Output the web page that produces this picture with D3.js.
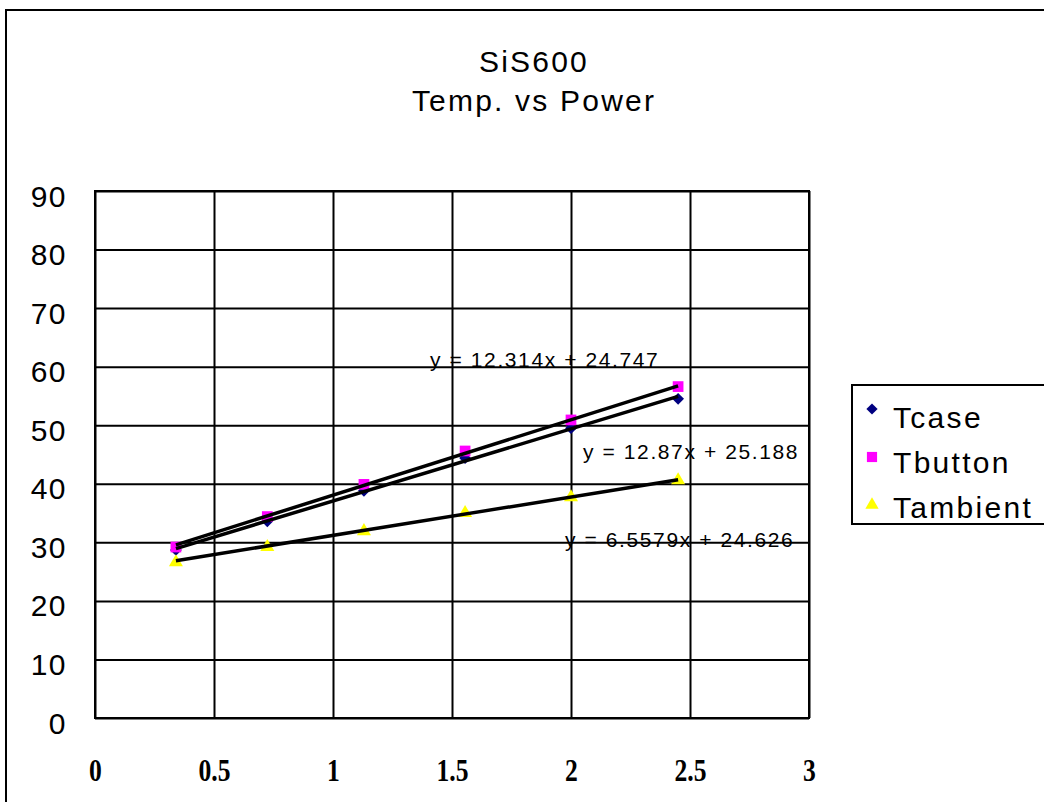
<!DOCTYPE html>
<html><head><meta charset="utf-8">
<script src="https://cdn.jsdelivr.net/npm/d3@7"></script>
<style>body{margin:0;background:#fff} svg{display:block}</style>
</head><body>
<svg id="c" width="1044" height="802"></svg>
<script>
// ---- data ----
const power    = [0.34, 0.724, 1.13, 1.555, 2.0, 2.45];
const tcase    = [28.7, 33.6, 38.8, 44.4, 49.5, 54.5];
const tbutton  = [29.2, 34.4, 39.9, 45.6, 50.9, 56.6];
const tambient = [26.6, 29.2, 31.9, 35.0, 37.7, 40.6];
const seriesNames = ["Tcase", "Tbutton", "Tambient"];
const trendSlopes = [12.314, 12.87, 6.5579];
const trendIntercepts = [24.747, 25.188, 24.626];
const trendLabels = ["y = 12.314x + 24.747", "y = 12.87x + 25.188", "y = 6.5579x + 24.626"];
const xTicks = [0, 0.5, 1, 1.5, 2, 2.5, 3];
const yTicks = [0, 10, 20, 30, 40, 50, 60, 70, 80, 90];
const titleLines = ["SiS600", "Temp. vs Power"];

// ---- layout / style ----
const colors = ["#000080", "#FF00FF", "#FFFF00"];
const diamond = { draw(ctx, size) { const r = Math.sqrt(size / 2); ctx.moveTo(0, -r); ctx.lineTo(r, 0); ctx.lineTo(0, r); ctx.lineTo(-r, 0); ctx.closePath(); } };
const shapes = [diamond, d3.symbolSquare, d3.symbolTriangle];
const shapeSizes = [70, 115, 85];
const labelPos = [[430, 367], [583, 459], [565, 547]];
const sans = "'Liberation Sans', Arial, sans-serif";

const svg = d3.select("#c");
const x = d3.scaleLinear().domain([0, 3]).range([95, 809]);
const y = d3.scaleLinear().domain([0, 90]).range([718, 191]);

// outer chart border (extends beyond right/bottom)
svg.append("rect").attr("x", 6).attr("y", 10).attr("width", 1100).attr("height", 900)
  .attr("fill", "none").attr("stroke", "#000").attr("stroke-width", 2);

// title
svg.append("g").selectAll("text").data(titleLines).join("text")
  .attr("x", 534).attr("y", (d, i) => 72 + i * 38.5)
  .attr("text-anchor", "middle")
  .attr("font-family", sans).attr("font-size", 30).attr("letter-spacing", 2.2)
  .text(d => d);

// gridlines
const gx = svg.append("g").attr("transform", `translate(0,${y(0)})`)
  .call(d3.axisBottom(x).tickValues(xTicks).tickSize(-(y(0) - y(90))).tickFormat(""));
gx.select(".domain").remove();
gx.selectAll("line").attr("stroke", "#000").attr("stroke-width", 2);

const gy = svg.append("g").attr("transform", `translate(${x(0)},0)`)
  .call(d3.axisLeft(y).tickValues(yTicks).tickSize(-(x(3) - x(0))).tickFormat(""));
gy.select(".domain").remove();
gy.selectAll("line").attr("stroke", "#000").attr("stroke-width", 2);

// plot border
svg.append("rect").attr("x", x(0)).attr("y", y(90))
  .attr("width", x(3) - x(0)).attr("height", y(0) - y(90))
  .attr("fill", "none").attr("stroke", "#000").attr("stroke-width", 2);

// y tick labels
const yl = svg.append("g").attr("transform", `translate(67,0)`)
  .call(d3.axisLeft(y).tickValues(yTicks).tickSize(0).tickPadding(0));
yl.select(".domain").remove();
yl.selectAll("text").attr("font-family", sans).attr("font-size", 30)
  .attr("letter-spacing", 1.5).attr("fill", "#000").attr("dy", "0.5em");

// x tick labels
const xl = svg.append("g").attr("transform", `translate(0,781)`)
  .call(d3.axisBottom(x).tickValues(xTicks).tickSize(0).tickPadding(0).tickFormat(d3.format("")));
xl.select(".domain").remove();
xl.selectAll("text").attr("font-family", "'Liberation Serif', 'Times New Roman', serif")
  .attr("font-weight", "bold").attr("font-size", 32).attr("fill", "#000")
  .attr("dy", 0).attr("transform", "scale(0.8,1)");

// markers
const allSeries = [tcase, tbutton, tambient];
allSeries.forEach((vals, si) => {
  svg.append("g").selectAll("path").data(vals).join("path")
    .attr("transform", (d, i) => `translate(${x(power[i])},${y(d)})`)
    .attr("d", d3.symbol().type(shapes[si]).size(shapeSizes[si]))
    .attr("fill", colors[si]);
});

// trendlines
const line = d3.line().x(d => x(d[0])).y(d => y(d[1]));
const xr = d3.extent(power);
trendSlopes.forEach((m, i) => {
  const b = trendIntercepts[i];
  svg.append("path").attr("d", line(xr.map(v => [v, m * v + b])))
    .attr("fill", "none").attr("stroke", "#000").attr("stroke-width", 3.5);
});

// trend labels
svg.append("g").selectAll("text").data(trendLabels).join("text")
  .attr("x", (d, i) => labelPos[i][0]).attr("y", (d, i) => labelPos[i][1])
  .attr("font-family", sans).attr("font-size", 21).attr("letter-spacing", 1.6)
  .text(d => d);

// legend
const lg = svg.append("g");
lg.append("rect").attr("x", 852).attr("y", 385).attr("width", 300).attr("height", 139)
  .attr("fill", "#fff").attr("stroke", "#000").attr("stroke-width", 2);
seriesNames.forEach((n, i) => {
  lg.append("path").attr("transform", `translate(872,${409 + i * 48})`)
    .attr("d", d3.symbol().type(shapes[i]).size(shapeSizes[i] * 0.9))
    .attr("fill", colors[i]);
  lg.append("text").attr("x", 893).attr("y", 428 + i * 45)
    .attr("font-family", sans).attr("font-size", 30).attr("letter-spacing", 2.3)
    .text(n);
});
</script>
</body></html>
